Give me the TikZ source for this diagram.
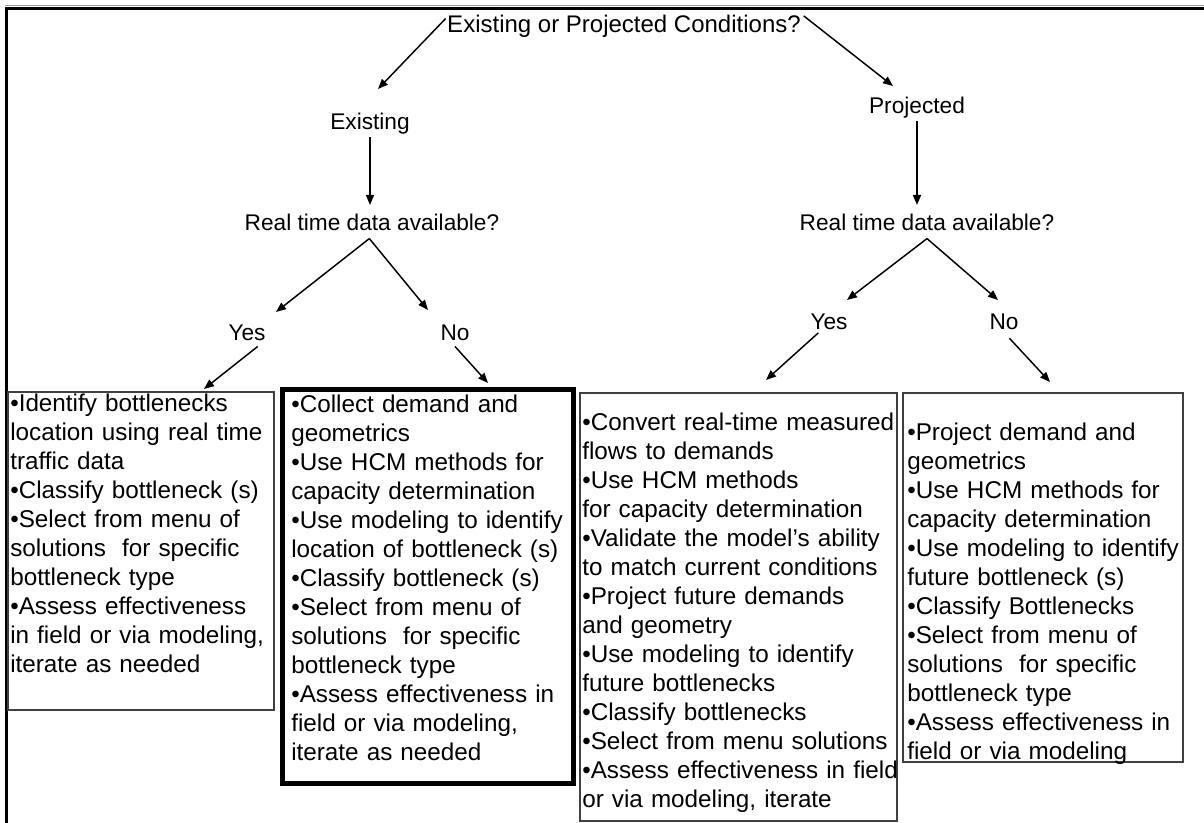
\documentclass[tikz,border=0pt]{standalone}
\usepackage{fontspec}
\setmainfont{Liberation Sans}
\usetikzlibrary{arrows.meta}
\begin{document}
\begin{tikzpicture}[x=0.75pt,y=-0.75pt,
  lbl/.style={inner sep=0pt, font=\fontsize{17}{20}\selectfont},
  ttl/.style={inner sep=0pt, font=\fontsize{18}{21}\selectfont},
  body/.style={inner sep=0pt, anchor=base west, text width=300pt, align=left, font=\fontsize{18.2}{21.75}\selectfont},
  thinbox/.style={draw=black!75, line width=1pt, anchor=north west, inner sep=0pt, outer sep=0pt},
  thickbox/.style={draw=black, line width=3.75pt, anchor=north west, inner sep=0pt, outer sep=0pt},
  arr/.style={-{Triangle[length=7.5pt,width=6pt]}, line width=1.1pt}
]
\useasboundingbox (0,0) rectangle (1204,823);
\fill[white] (0,0) rectangle (1204,823);
% outer frame
\draw[black!40, line width=1.2pt] (5,5.5) -- (1204,5.5);
\draw[line width=2.4pt] (5,8.5) -- (1204,8.5);
\draw[line width=2.4pt] (6.5,7.5) -- (6.5,823);

% labels
\node[ttl] (title) at (624,26) {Existing or Projected Conditions?};
\node[lbl] (exist) at (370,124) {Existing};
\node[lbl] (proj) at (917,108) {Projected};
\node[lbl] (rtdL) at (372,222) {Real time data available?};
\node[lbl] (rtdR) at (927,222) {Real time data available?};
\node[lbl] (yesL) at (247,333) {Yes};
\node[lbl] (noL) at (455,333) {No};
\node[lbl] (yesR) at (829,322) {Yes};
\node[lbl] (noR) at (1004,322) {No};

% boxes
\node[thinbox, minimum width=199.5pt, minimum height=238.5pt] (box1) at (8,392) {};
\node[thickbox, minimum width=218.25pt, minimum height=294.75pt] (box2) at (282,390) {};
\node[thinbox, minimum width=237.75pt, minimum height=321pt] (box3) at (580,393) {};
\node[thinbox, minimum width=210pt, minimum height=276.75pt] (box4) at (903,393) {};

\node[body] (t1) at (10,412) {•Identify bottlenecks\\location using real time\\traffic data\\•Classify bottleneck (s)\\•Select from menu of\\solutions\ \ for specific\\bottleneck type\\•Assess effectiveness\\in field or via modeling,\\iterate as needed};
\node[body] (t2) at (291,413) {•Collect demand and\\geometrics\\•Use HCM methods for\\capacity determination\\•Use modeling to identify\\location of bottleneck (s)\\•Classify bottleneck (s)\\•Select from menu of\\solutions\ \ for specific\\bottleneck type\\•Assess effectiveness in\\field or via modeling,\\iterate as needed};
\node[body] (t3) at (582,431) {•Convert real-time measured\\flows to demands\\•Use HCM methods\\for capacity determination\\•Validate the model’s ability\\to match current conditions\\•Project future demands\\and geometry\\•Use modeling to identify\\future bottlenecks\\•Classify bottlenecks\\•Select from menu solutions\\•Assess effectiveness in field\\or via modeling, iterate};
\node[body] (t4) at (907,441) {•Project demand and\\geometrics\\•Use HCM methods for\\capacity determination\\•Use modeling to identify\\future bottleneck (s)\\•Classify Bottlenecks\\•Select from menu of\\solutions\ \ for specific\\bottleneck type\\•Assess effectiveness in\\field or via modeling};

% arrow tips
\coordinate (cE) at (378,89);
\coordinate (cP) at (893,86);
\coordinate (cRL) at (370,205);
\coordinate (cRR) at (917,205);
\coordinate (cYL) at (276,312);
\coordinate (cNL) at (428,310);
\coordinate (cYR) at (847,300);
\coordinate (cNR) at (998,300);
\coordinate (cB1) at (204,389);
\coordinate (cB2) at (488,383);
\coordinate (cB3) at (766,380);
\coordinate (cB4) at (1050,382);

\draw[arr] ([xshift=-1pt,yshift=-3pt]title.north west) -- (cE);
\draw[arr] ([xshift=2pt,yshift=-1pt]title.north east) -- (cP);
\draw[arr] ([yshift=-2pt]exist.south) -- (cRL);
\draw[arr] ([yshift=-2pt]proj.south) -- (cRR);
\draw[arr] ([xshift=-2pt,yshift=-6pt]rtdL.south) -- (cYL);
\draw[arr] ([xshift=-2pt,yshift=-6pt]rtdL.south) -- (cNL);
\draw[arr] ([yshift=-6pt]rtdR.south) -- (cYR);
\draw[arr] ([yshift=-6pt]rtdR.south) -- (cNR);
\draw[arr] ([xshift=8pt,yshift=-4pt]yesL.south) -- (cB1);
\draw[arr] ([yshift=-4pt]noL.south) -- (cB2);
\draw[arr] ([xshift=-8pt,yshift=-2pt]yesR.south) -- (cB3);
\draw[arr] ([xshift=4pt,yshift=-6pt]noR.south) -- (cB4);
\end{tikzpicture}
\end{document}
